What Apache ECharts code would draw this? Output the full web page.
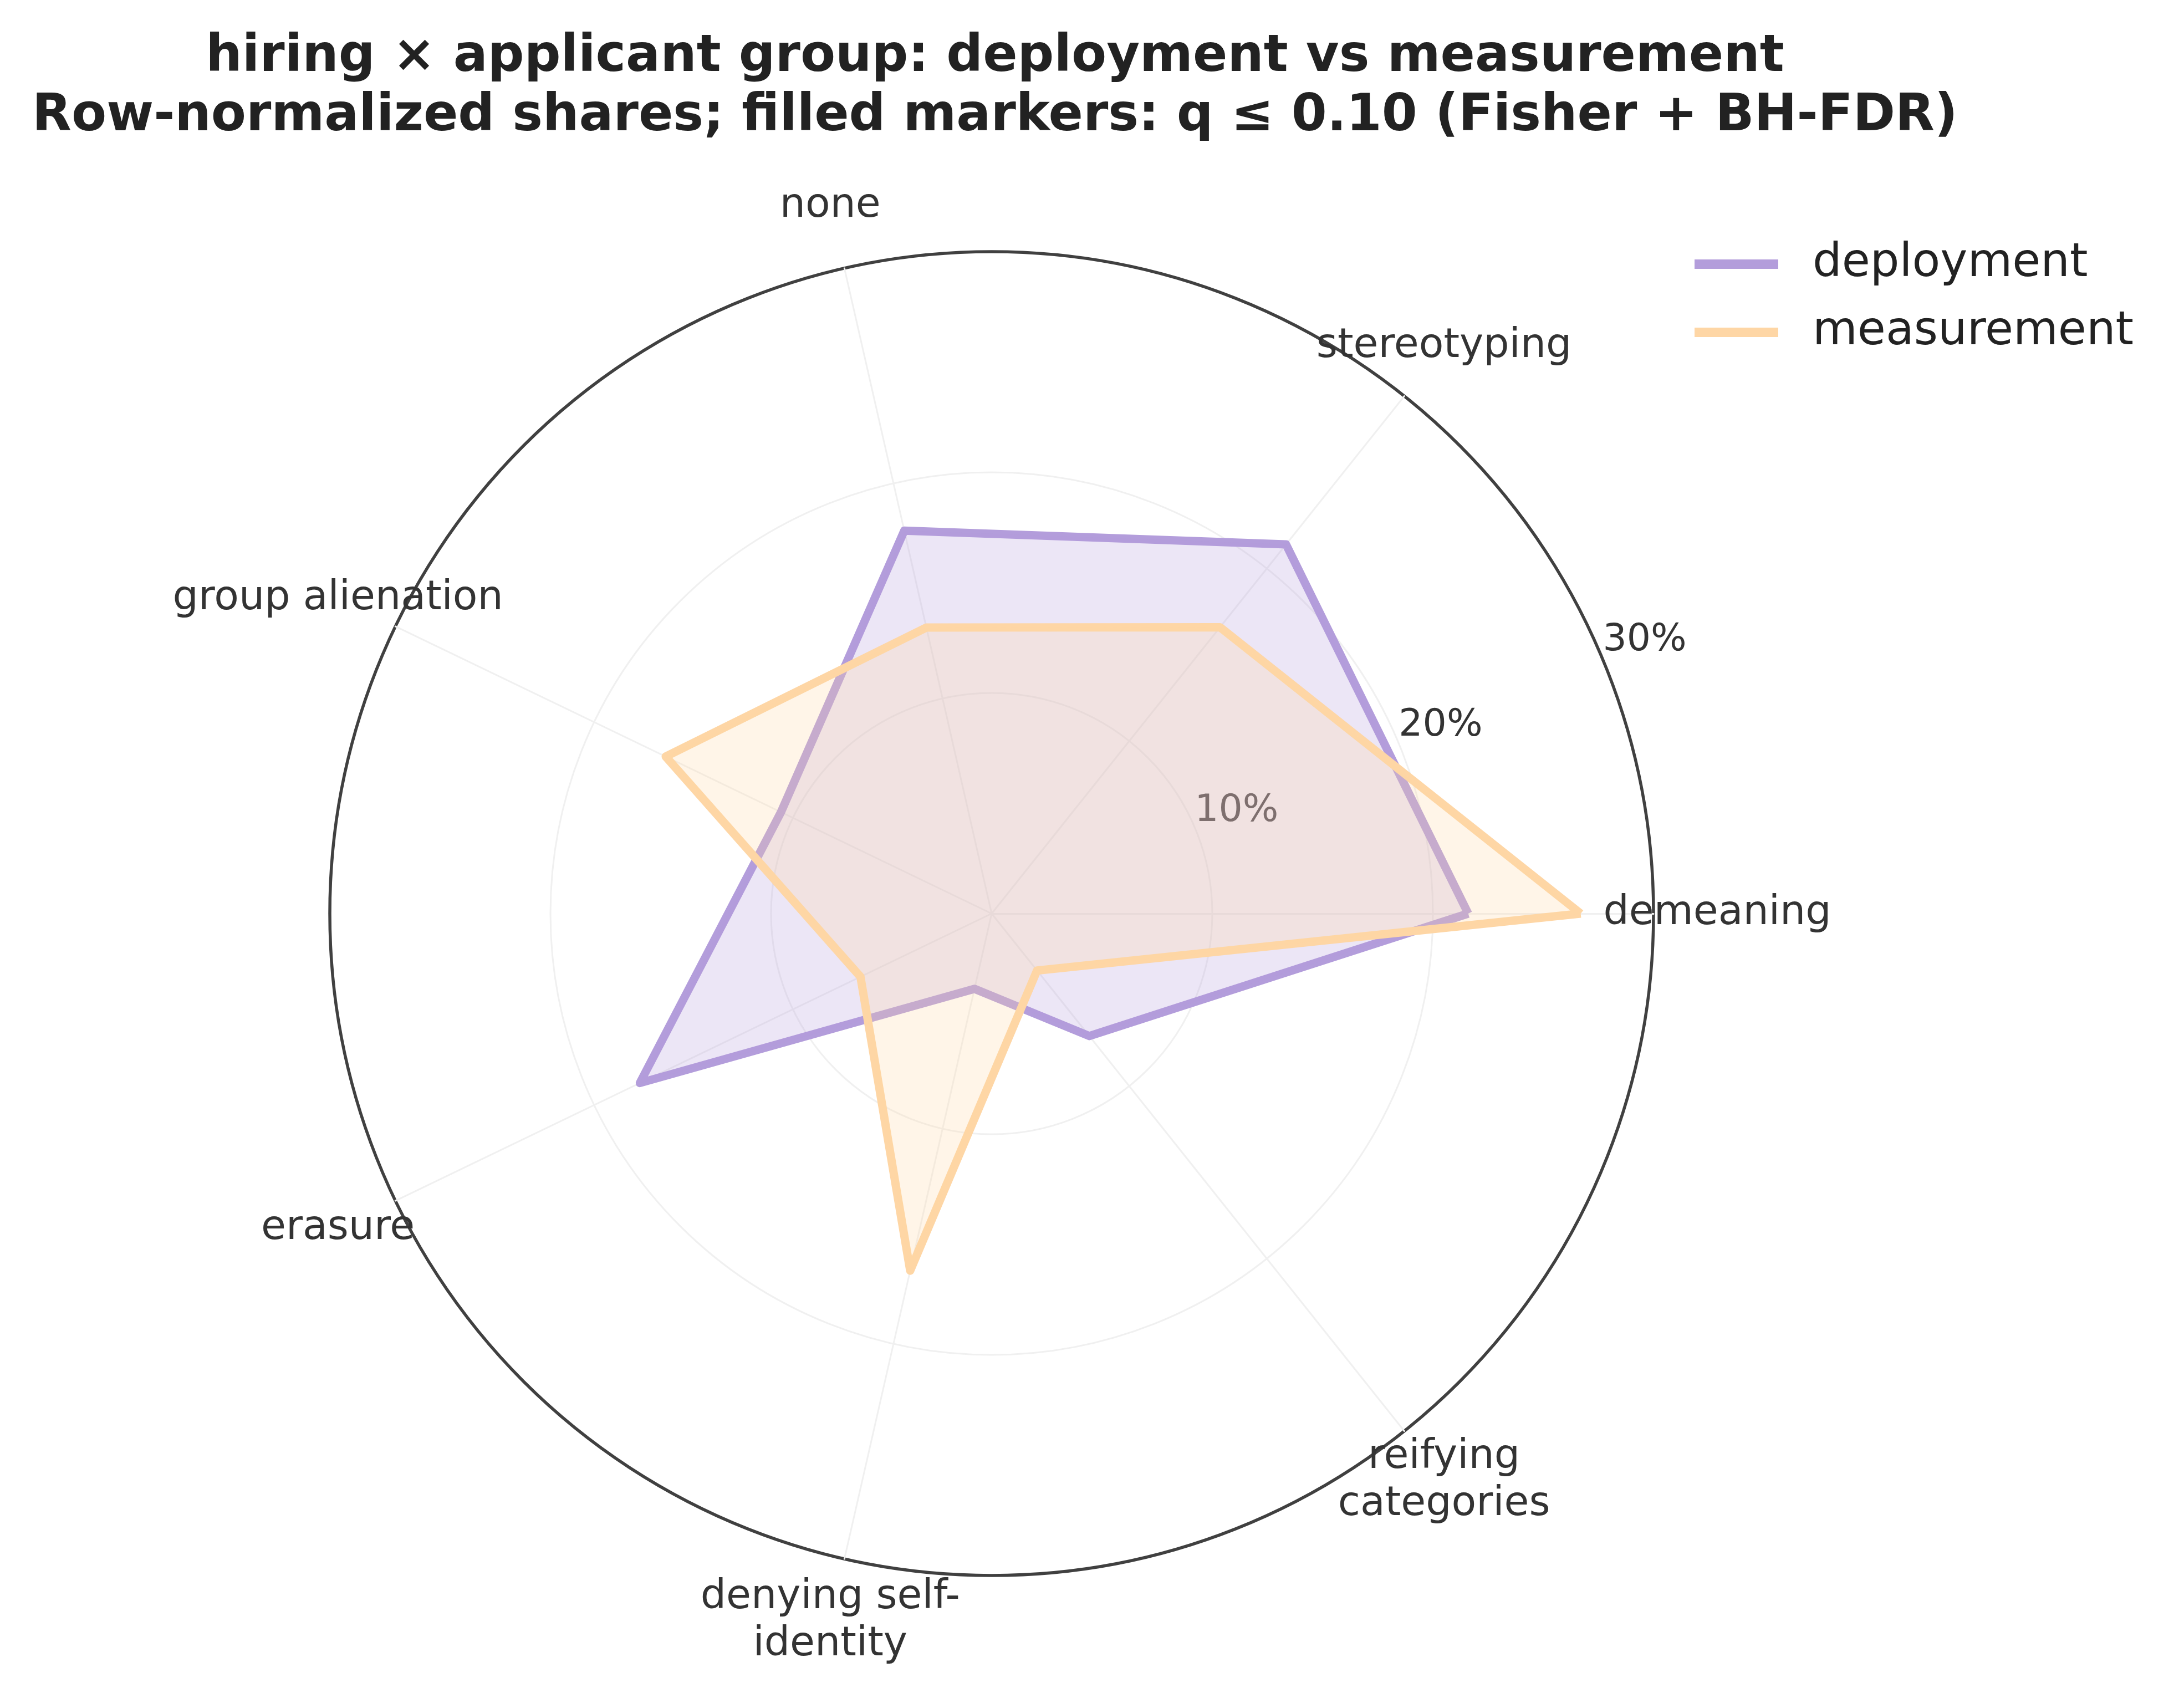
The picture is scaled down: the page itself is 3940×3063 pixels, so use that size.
<!DOCTYPE html>
<html>
<head>
<meta charset="utf-8">
<script src="https://cdn.jsdelivr.net/npm/echarts@6/dist/echarts.min.js"></script>
<style>
  html, body { margin: 0; padding: 0; background: #ffffff; }
  #chart { width: 3940px; height: 3063px; }
</style>
</head>
<body>
<div id="chart"></div>
<script>
// ---- data ----
const categories = ['demeaning', 'stereotyping', 'none', 'group alienation', 'erasure', 'denying self-\nidentity', 'reifying\ncategories'];
const deployment = [21.6, 21.4, 17.8, 10.6, 17.7, 3.5, 7.1];
const measurement = [26.7, 16.6, 13.3, 16.4, 6.6, 16.6, 3.3];
const seriesNames = ['deployment', 'measurement'];
const tickValues = [10, 20, 30];
const radialMax = 30;

const FONT = 'DejaVu Sans';
const CX = 1789, CY = 1648, R = 1194;
const purple = '#b39ddb';
const orange = '#fed6a5';

const chart = echarts.init(document.getElementById('chart'), null, { renderer: 'canvas' });

const indicators = categories.map(c => ({ name: c, min: 0, max: radialMax }));

const option = {
  backgroundColor: '#ffffff',
  animation: false,
  title: {
    text: 'hiring × applicant group: deployment vs measurement\nRow-normalized shares; filled markers: q ≤ 0.10 (Fisher + BH-FDR)',
    left: 1790,
    top: 46,
    textAlign: 'center',
    textStyle: { fontFamily: FONT, fontWeight: 'bold', fontSize: 92, lineHeight: 107, color: '#222222' }
  },
  legend: {
    data: seriesNames,
    orient: 'vertical',
    left: 3052,
    top: 430,
    icon: 'rect',
    itemWidth: 151,
    itemHeight: 17,
    itemGap: 40,
    textStyle: { fontFamily: FONT, fontSize: 83, color: '#222222', padding: [0, 0, 0, 57] }
  },
  radar: [
    {
      center: [CX, CY],
      radius: R,
      startAngle: 0,
      shape: 'circle',
      splitNumber: 3,
      indicator: indicators,
      axisName: {
        show: true,
        fontFamily: FONT,
        fontSize: 73,
        lineHeight: 85,
        color: '#333333',
        align: 'center',
        verticalAlign: 'middle'
      },
      nameGap: 115,
      axisLine: { show: true, lineStyle: { color: '#f0f0f0', width: 3 } },
      axisTick: { show: false },
      axisLabel: { show: false },
      splitLine: { show: true, lineStyle: { color: ['#f0f0f0', '#f0f0f0', '#f0f0f0', 'rgba(0,0,0,0)'], width: 3 } },
      splitArea: { show: false }
    },
    {
      center: [CX, CY],
      radius: R,
      startAngle: 0,
      shape: 'circle',
      splitNumber: 1,
      indicator: indicators,
      axisName: { show: false },
      axisLine: { show: false },
      axisTick: { show: false },
      axisLabel: { show: false },
      splitLine: { show: true, lineStyle: { color: ['rgba(0,0,0,0)', '#404040'], width: 5.5 } },
      splitArea: { show: false }
    }
  ],
  polar: {
    center: [CX, CY],
    radius: 1277
  },
  angleAxis: {
    type: 'value',
    startAngle: 22.7,
    min: 0,
    max: 360,
    show: false
  },
  radiusAxis: {
    type: 'value',
    min: -2,
    max: radialMax,
    interval: 2,
    axisLine: { show: false },
    axisTick: { show: false },
    splitLine: { show: false },
    axisLabel: {
      show: true,
      margin: 0,
      align: 'center',
      verticalAlign: 'middle',
      fontFamily: FONT,
      fontSize: 68,
      color: '#333333',
      formatter: v => (tickValues.indexOf(v) >= 0 ? v + '%' : '')
    }
  },
  series: [
    {
      type: 'radar',
      radarIndex: 0,
      z: 3,
      symbol: 'none',
      data: [
        {
          name: seriesNames[0],
          value: deployment,
          lineStyle: { color: purple, width: 15, join: 'round' },
          itemStyle: { color: purple },
          areaStyle: { color: purple, opacity: 0.25 }
        }
      ]
    },
    {
      type: 'radar',
      radarIndex: 0,
      z: 4,
      symbol: 'none',
      data: [
        {
          name: seriesNames[1],
          value: measurement,
          lineStyle: { color: orange, width: 15, join: 'round' },
          itemStyle: { color: orange },
          areaStyle: { color: orange, opacity: 0.25 }
        }
      ]
    }
  ]
};

chart.setOption(option);
</script>
</body>
</html>
